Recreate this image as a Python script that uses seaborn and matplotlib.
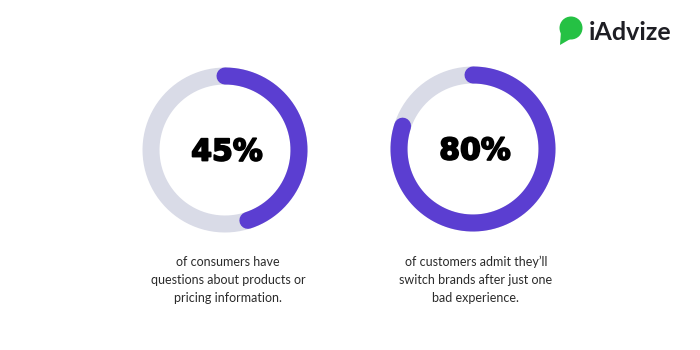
import numpy as np
import pandas as pd
import matplotlib
matplotlib.use("Agg")
import matplotlib.pyplot as plt
import matplotlib.patheffects as pe
import seaborn as sns
from matplotlib.patches import Circle, Polygon

# Survey figures shown in the two rings
values = [45, 80]
labels = ["45%", "80%"]
captions = [
    "of consumers have\nquestions about products or\npricing information.",
    "of customers admit they\u2019ll\nswitch brands after just one\nbad experience.",
]

PURPLE = "#5B3ED1"
TRACK = "#D9DBE7"
GREEN = "#25C144"

sns.set_theme(style="white")
plt.rcParams["font.family"] = ["Lato", "DejaVu Sans"]

fig = plt.figure(figsize=(7, 3.5), dpi=100)
ax = fig.add_axes([0, 0, 1, 1])
ax.set_xlim(0, 700)
ax.set_ylim(350, 0)
ax.axis("off")

centers = [(225, 150), (473, 149)]
radius = 74          # mid-line radius of the ring (px)
ring_px = 17         # ring thickness (px)
lw = ring_px * 72 / 100


def ring_frame(cx, cy, frac, n=400):
    # angle measured clockwise from 12 o'clock
    t = np.linspace(0, 2 * np.pi * frac, n)
    return pd.DataFrame({"x": cx + radius * np.sin(t),
                         "y": cy - radius * np.cos(t)})


for (cx, cy), v, lab, cap in zip(centers, values, labels, captions):
    track = ring_frame(cx, cy, 1.0)
    sns.lineplot(data=track, x="x", y="y", sort=False, estimator=None,
                 color=TRACK, linewidth=lw, ax=ax)
    arc = ring_frame(cx, cy, v / 100)
    line = sns.lineplot(data=arc, x="x", y="y", sort=False, estimator=None,
                        color=PURPLE, linewidth=lw, ax=ax).lines[-1]
    line.set_solid_capstyle("round")
    ax.text(cx + 2, cy + 2, lab, ha="center", va="center",
            fontsize=21.5, fontweight="bold", color="#000000",
            family="DejaVu Sans",
            path_effects=[pe.withStroke(linewidth=1.3, foreground="#000000")])
    ax.text(cx + 3, 280, cap, ha="center", va="center", fontsize=9,
            color="#2B2B2B", linespacing=1.6)

ax.set_xlim(0, 700)
ax.set_ylim(350, 0)
ax.set_xlabel("")
ax.set_ylabel("")

# brand mark: speech bubble + wordmark
ax.add_patch(Circle((571, 28), 11.5, color=GREEN, lw=0))
ax.add_patch(Polygon([[561, 31], [560, 45], [572, 38]], closed=True,
                     color=GREEN, lw=0))
ax.text(589, 33, "iAdvize", ha="left", va="center", fontsize=18,
        fontweight="bold", color="#1E1E24")

fig.savefig("out.png", dpi=100, facecolor="white")
